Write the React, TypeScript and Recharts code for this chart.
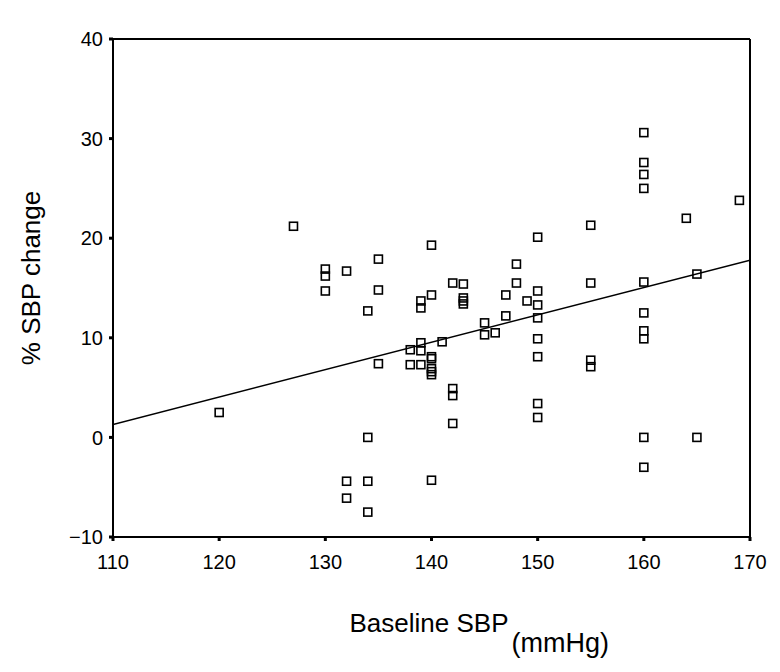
import React from "react";
import {
  ScatterChart,
  Scatter,
  XAxis,
  YAxis,
  ReferenceLine,
  Label
} from "recharts";

// baseline SBP (mmHg) of each subject
const baselineSBP = [
  120, 127, 130, 130, 130, 132, 132, 132, 134, 134, 134, 134, 135, 135, 135,
  138, 138, 139, 139, 139, 139, 139, 140, 140, 140, 140, 140, 140, 140, 140,
  141, 142, 142, 142, 142, 143, 143, 143, 143, 145, 145, 146, 147, 147, 148,
  148, 149, 150, 150, 150, 150, 150, 150, 150, 150, 155, 155, 155, 155, 160,
  160, 160, 160, 160, 160, 160, 160, 160, 160, 164, 165, 165, 169
];

// % SBP change of each subject
const sbpChange = [
  2.5, 21.2, 16.9, 16.2, 14.7, 16.7, -4.4, -6.1, 12.7, 0, -4.4, -7.5, 17.9, 14.8, 7.4,
  8.8, 7.3, 13.7, 13.0, 9.5, 8.7, 7.3, 19.3, 14.3, 8.1, 7.9, 6.9, 6.6, 6.3, -4.3,
  9.6, 15.5, 4.9, 4.2, 1.4, 15.4, 14.0, 13.7, 13.4, 11.5, 10.3, 10.5, 14.3, 12.2, 17.4,
  15.5, 13.7, 20.1, 14.7, 13.3, 12.0, 9.9, 8.1, 3.4, 2.0, 21.3, 15.5, 7.75, 7.1, 30.6,
  27.6, 26.4, 25.0, 15.6, 12.5, 10.7, 9.9, 0, -3.0, 22.0, 16.4, 0, 23.8
];

// fitted line ends
const fitX = [110, 170];
const fitY = [1.3, 17.8];

const xTicks = [110, 120, 130, 140, 150, 160, 170];
const yTicks = [-10, 0, 10, 20, 30, 40];

const points = baselineSBP.map((x, i) => ({ x, y: sbpChange[i] }));
const fitLine = fitX.map((x, i) => ({ x, y: fitY[i] }));

const FONT = "'Liberation Sans', Arial, sans-serif";

const SquareDot = (props: any) => {
  const { cx, cy } = props;
  if (cx == null || cy == null) return null;
  return (
    <rect
      x={cx - 4}
      y={cy - 4}
      width={8}
      height={8}
      fill="none"
      stroke="#000"
      strokeWidth={1.6}
    />
  );
};

const XLabel = (props: any) => {
  const vb = props.viewBox || {};
  const cx = vb.x + vb.width / 2;
  return (
    <text fontFamily={FONT} fill="#000">
      <tspan x={cx - 82} y={632} fontSize={26}>
        Baseline SBP
      </tspan>
      <tspan x={cx + 80} y={652} fontSize={27}>
        (mmHg)
      </tspan>
    </text>
  );
};

const YLabel = () => (
  <text
    x={40}
    y={278}
    transform="rotate(-90 40 278)"
    textAnchor="middle"
    fontFamily={FONT}
    fontSize={26}
    fill="#000"
  >
    % SBP change
  </text>
);

export default function App() {
  return (
    <div style={{ position: "absolute", left: 0, top: 0, background: "#fff" }}>
      <ScatterChart
        width={780}
        height={672}
        margin={{ top: 39, right: 30, bottom: 95, left: 53 }}
      >
        <XAxis
          type="number"
          dataKey="x"
          domain={[110, 170]}
          ticks={xTicks}
          height={40}
          stroke="#000"
          axisLine={{ stroke: "#000", strokeWidth: 2 }}
          tickLine={{ stroke: "#000", strokeWidth: 3 }}
          tickSize={4}
          tickMargin={14}
          tick={{ fill: "#000", fontSize: 20, fontFamily: FONT }}
          allowDataOverflow
        >
          <Label content={<XLabel />} />
        </XAxis>
        <YAxis
          type="number"
          dataKey="y"
          domain={[-10, 40]}
          ticks={yTicks}
          width={60}
          stroke="#000"
          axisLine={{ stroke: "#000", strokeWidth: 2 }}
          tickLine={{ stroke: "#000", strokeWidth: 3 }}
          tickSize={4}
          tickMargin={6}
          tick={{ fill: "#000", fontSize: 20, fontFamily: FONT }}
          tickFormatter={(v: number) => String(v).replace("-", "\u2212")}
          allowDataOverflow
        >
          <Label content={<YLabel />} />
        </YAxis>
        <ReferenceLine y={40} stroke="#000" strokeWidth={2} />
        <ReferenceLine x={170} stroke="#000" strokeWidth={2} />
        <Scatter
          data={fitLine}
          line={{ stroke: "#000", strokeWidth: 1.5 }}
          shape={() => null}
          isAnimationActive={false}
        />
        <Scatter data={points} shape={<SquareDot />} isAnimationActive={false} />
      </ScatterChart>
    </div>
  );
}
